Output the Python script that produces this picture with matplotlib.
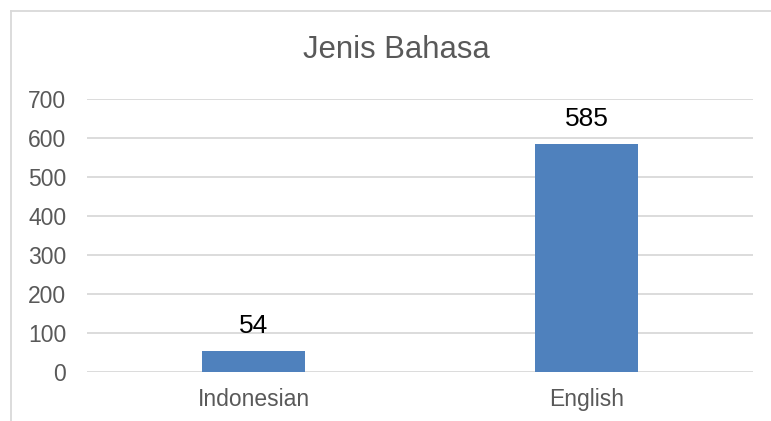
import matplotlib.pyplot as plt
from matplotlib.lines import Line2D

categories = ['Indonesian', 'English']
counts = [54, 585]
yticks = [0, 100, 200, 300, 400, 500, 600, 700]

W, H = 771, 421
fig = plt.figure(figsize=(W / 100, H / 100), dpi=100)
ax = fig.add_axes([87 / W, 1 - 371.7 / H, 666 / W, 273 / H])

grey = '#595959'
grid = '#D9D9D9'
font = ['Liberation Sans', 'DejaVu Sans']
narrow = ['Liberation Sans Narrow', 'Liberation Sans', 'DejaVu Sans']

x = list(range(len(categories)))
bars = ax.bar(x, counts, width=0.31, color='#4F81BD', zorder=3)

ax.set_xlim(-0.5, 1.5)
ax.set_ylim(0, 700)
ax.set_yticks(yticks)
ax.set_xticks(x)
ax.set_xticklabels(categories)
ax.yaxis.grid(True, color=grid, linewidth=1.3, zorder=0)
for s in ax.spines.values():
    s.set_visible(False)
ax.tick_params(axis='both', length=0, colors=grey, labelsize=16.5)
ax.tick_params(axis='y', pad=15)
ax.tick_params(axis='x', pad=12)
for lab in ax.get_xticklabels() + ax.get_yticklabels():
    lab.set_family(font)

for b, v in zip(bars, counts):
    ax.annotate(str(v), (b.get_x() + b.get_width() / 2, v), xytext=(0, 9),
                textcoords='offset points', ha='center', va='bottom',
                fontsize=19, color='black', family=narrow)

fig.text(396.5 / W, 1 - 50 / H, 'Jenis Bahasa', ha='center', va='center',
         fontsize=22.4, color=grey, family=font)

# chart border (only left and top edges are inside the image)
fig.add_artist(Line2D([11 / W, 11 / W], [0, 1 - 11 / H], transform=fig.transFigure,
                      color=grid, linewidth=1.3))
fig.add_artist(Line2D([11 / W, 1], [1 - 11 / H, 1 - 11 / H], transform=fig.transFigure,
                      color=grid, linewidth=1.3))

fig.savefig('out.png', dpi=100)
